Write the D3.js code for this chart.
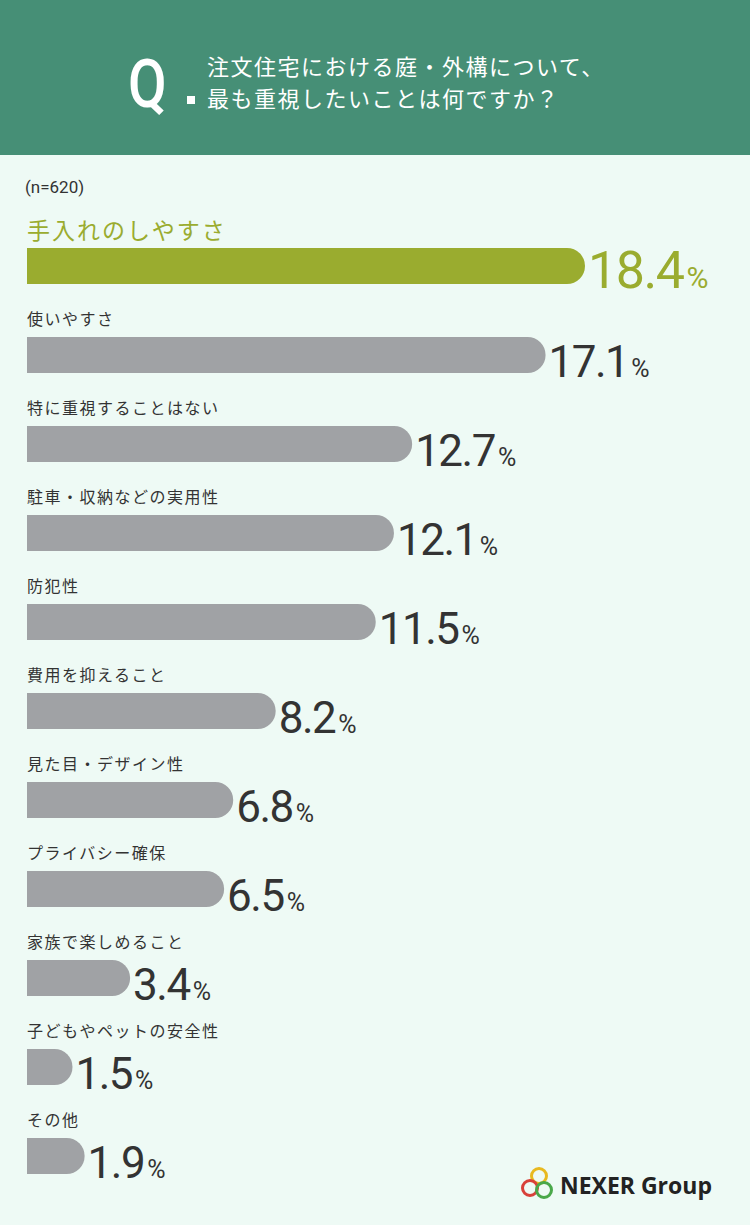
<!DOCTYPE html>
<html><head><meta charset="utf-8">
<script src="https://cdn.jsdelivr.net/npm/d3@7"></script>
<style>body{margin:0;background:#eefaf5}svg{display:block}</style>
</head><body><div id="chart"></div>
<script>
const categories = ['手入れのしやすさ','使いやすさ','特に重視することはない','駐車・収納などの実用性','防犯性','費用を抑えること','見た目・デザイン性','プライバシー確保','家族で楽しめること','子どもやペットの安全性','その他'];
const values = [18.4,17.1,12.7,12.1,11.5,8.2,6.8,6.5,3.4,1.5,1.9];
const questionLines = ['注文住宅における庭・外構について、','最も重視したいことは何ですか？'];
const sampleLabel = '(n=620)';

const W = 750, H = 1225, font = '"Noto Sans CJK JP","Noto Sans",sans-serif';
const svg = d3.select('#chart').append('svg').attr('width', W).attr('height', H);
svg.append('rect').attr('width', W).attr('height', H).attr('fill', '#eefaf5');

// Header
svg.append('rect').attr('width', W).attr('height', 155).attr('fill', '#468f76');
svg.append('text').attr('x', 0).attr('y', 0).attr('fill', '#fff')
    .attr('font-family', 'Roboto,sans-serif').attr('font-weight', 500).attr('font-size', 66)
    .attr('transform', 'translate(128,107) scale(0.85,1)').text('Q');
svg.append('rect').attr('x', 187).attr('y', 96).attr('width', 8).attr('height', 8).attr('fill', '#fff');
svg.selectAll('.q').data(questionLines).enter().append('text')
    .attr('x', 207).attr('y', (d, i) => 75 + i * 32)
    .attr('fill', '#fff').attr('font-family', font).attr('font-size', 22).attr('letter-spacing', 1.5)
    .text(d => d);

svg.append('text').attr('x', 25).attr('y', 193).attr('fill', '#333')
    .attr('font-family', 'Roboto,sans-serif').attr('font-size', 17).text(sampleLabel);

// Scales
const x = d3.scaleLinear().domain([0, d3.max(values)]).range([0, 558]);
const y = d3.scaleBand().domain(categories).range([195, 195 + 89 * categories.length]);
const barH = 36, x0 = 27;
const barTop = d => y(d) + 53;

const data = categories.map((c, i) => ({c, v: values[i], first: i === 0}));
const g = svg.selectAll('.item').data(data).enter().append('g');

g.append('path')
    .attr('fill', d => d.first ? '#9aac2f' : '#a0a2a5')
    .attr('d', d => {
        const t = barTop(d.c), w = x(d.v), r = barH / 2;
        return `M${x0},${t}H${x0 + w - r}A${r},${r} 0 0 1 ${x0 + w - r},${t + barH}H${x0}Z`;
    });

g.append('text')
    .attr('x', 27).attr('y', d => barTop(d.c) - (d.first ? 9 : 12))
    .attr('fill', d => d.first ? '#9aac2f' : '#333')
    .attr('font-family', font).attr('font-size', d => d.first ? 23 : 16)
    .attr('letter-spacing', d => d.first ? 2 : 1.5)
    .text(d => d.c);

const vt = g.append('text')
    .attr('x', d => x0 + x(d.v) + 3).attr('y', d => barTop(d.c) + barH + 4)
    .attr('fill', d => d.first ? '#9aac2f' : '#333')
    .attr('font-family', 'Roboto,sans-serif').attr('letter-spacing', -1.5);
vt.append('tspan').attr('font-size', d => d.first ? 52 : 44).attr('font-weight', 400).text(d => d.v.toFixed(1));
vt.append('tspan').attr('font-size', d => d.first ? 30 : 25).attr('dx', 3).text('%');

// Logo
const lg = svg.append('g').attr('transform', 'translate(530,1185)');
[[9, -9, '#e8b920'], [0, 3, '#d8413a'], [14, 5, '#4aa84a']].forEach(([cx, cy, c]) =>
    lg.append('circle').attr('cx', cx).attr('cy', cy).attr('r', 7.5).attr('fill', 'none').attr('stroke', c).attr('stroke-width', 3));
svg.append('text').attr('x', 560).attr('y', 1194).attr('fill', '#222')
    .attr('font-family', '"Open Sans",sans-serif').attr('font-weight', 700).attr('font-size', 23).text('NEXER Group');
</script></body></html>
